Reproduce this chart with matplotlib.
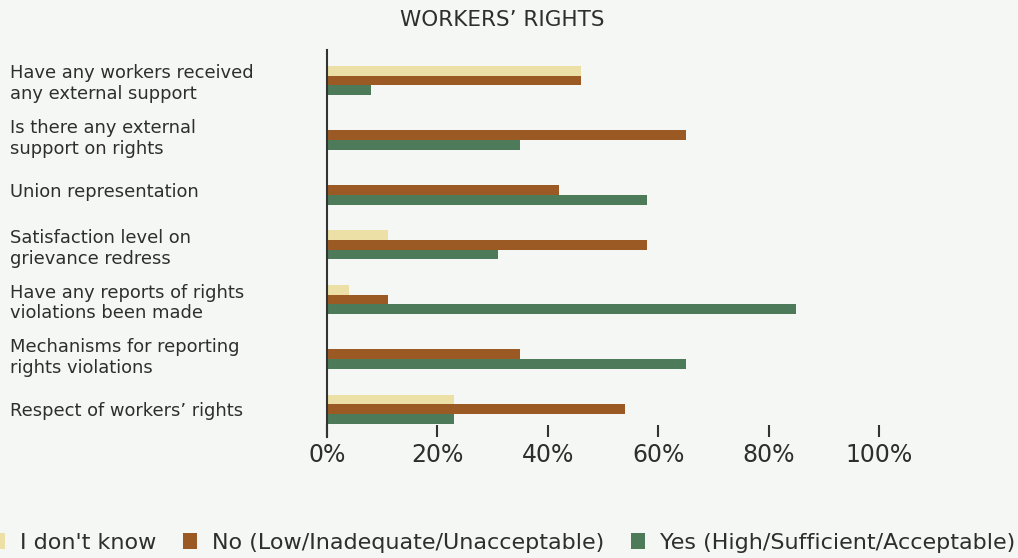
import matplotlib.pyplot as plt
import numpy as np

# Survey answers, percent of respondents per question
questions = [
    "Have any workers received\nany external support",
    "Is there any external\nsupport on rights",
    "Union representation",
    "Satisfaction level on\ngrievance redress",
    "Have any reports of rights\nviolations been made",
    "Mechanisms for reporting\nrights violations",
    "Respect of workers\u2019 rights",
]
dont_know = [46, 0, 0, 11, 4, 0, 23]
no_answer = [46, 65, 42, 58, 11, 35, 54]
yes_answer = [8, 35, 58, 31, 85, 65, 23]

series_names = ["I don't know", "No (Low/Inadequate/Unacceptable)",
                "Yes (High/Sufficient/Acceptable)"]
colors = ["#EDE0A6", "#9B5A24", "#4D7B5A"]
bg = "#F5F7F4"
txt = '#2E2E2E'

plt.rcParams['font.family'] = ['DejaVu Sans']

fig = plt.figure(figsize=(10.18, 5.58), dpi=100, facecolor=bg)
ax = fig.add_axes([0.3212, 0.2168, 0.5422, 0.6936])
ax.set_facecolor(bg)

y = np.arange(len(questions))
h = 0.177
for offset, vals, col, name in zip([-h, 0, h], [dont_know, no_answer, yes_answer],
                                   colors, series_names):
    ax.barh(y + offset, vals, height=h, color=col, label=name)

ax.set_xlim(0, 100)
ax.set_ylim(6.511, -0.557)

ax.set_xticks(np.arange(0, 101, 20))
ax.set_xticklabels([f"{v}%" for v in range(0, 101, 20)])
ax.tick_params(axis='x', direction='in', length=9, width=1.5, color='#333333',
               labelsize=17, labelcolor=txt, pad=4)

ax.set_yticks(y)
ax.set_yticklabels(questions, ha='left', fontsize=12.9, color=txt,
                   linespacing=1.2)
ax.tick_params(axis='y', length=0, pad=228)

for s in ['top', 'right', 'bottom']:
    ax.spines[s].set_visible(False)
ax.spines['left'].set_color('#333333')
ax.spines['left'].set_linewidth(1.5)

fig.text(0.493, 0.964, "WORKERS\u2019 RIGHTS", ha='center', va='center',
         fontsize=15.5, color=txt)

handles, labels = ax.get_legend_handles_labels()
fig.legend(handles, labels, loc='center', bbox_to_anchor=(0.4946, 0.027), ncol=3,
           frameon=False, fontsize=16, handlelength=0.6, handleheight=0.75,
           handletextpad=0.7, columnspacing=1.2, labelcolor=txt)

plt.savefig('out.png', dpi=100, facecolor=bg)
